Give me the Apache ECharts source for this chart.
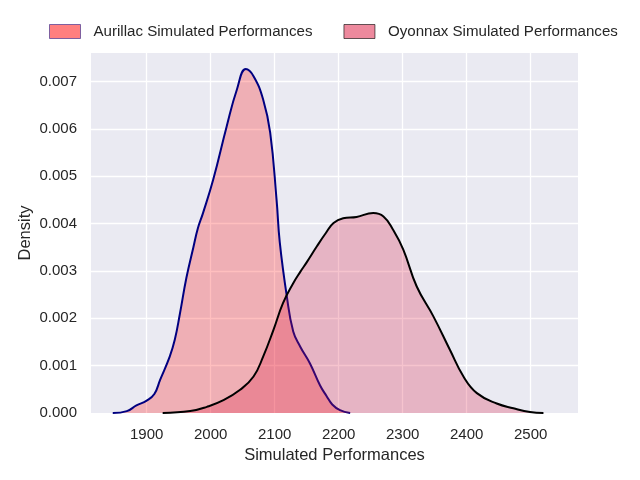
<!DOCTYPE html>
<html>
<head>
<meta charset="utf-8">
<script src="https://cdn.jsdelivr.net/npm/echarts@6/dist/echarts.min.js"></script>
<style>html,body{margin:0;padding:0;background:#fff}#c{width:640px;height:480px}</style>
</head>
<body>
<div id="c"></div>
<script>
var seriesNames = ["Aurillac Simulated Performances", "Oyonnax Simulated Performances"];
var aurillacX = [1847, 1869, 1884, 1900, 1912, 1921, 1936, 1944, 1952, 1962, 1973, 1980, 1988, 2004, 2025, 2041, 2055, 2067, 2082, 2093, 2103, 2108, 2119, 2129, 2140, 2155, 2171, 2181, 2190, 2202, 2218];
var aurillacY = [0, 0.00004, 0.00016, 0.00026, 0.0004, 0.0007, 0.00119, 0.00155, 0.0021, 0.00285, 0.0035, 0.0039, 0.00422, 0.00493, 0.00605, 0.00683, 0.00726, 0.00711, 0.00662, 0.00592, 0.0045, 0.0036, 0.00246, 0.00172, 0.0014, 0.00105, 0.00058, 0.00036, 0.00018, 0.00006, 0];
var oyonnaxX = [1925, 1968, 1994, 2020, 2046, 2067, 2082, 2098, 2113, 2129, 2140, 2150, 2166, 2180, 2192, 2207, 2228, 2254, 2270, 2285, 2301, 2322, 2348, 2374, 2395, 2416, 2447, 2473, 2499, 2520];
var oyonnaxY = [0, 0.00004, 0.00013, 0.00027, 0.00049, 0.00077, 0.00119, 0.00175, 0.00232, 0.00274, 0.00298, 0.00318, 0.00352, 0.0038, 0.00401, 0.00411, 0.00414, 0.00422, 0.00415, 0.00387, 0.00345, 0.00267, 0.00204, 0.00133, 0.00077, 0.00042, 0.0002, 0.0001, 0.00002, 0];
var yTicks = [0, 0.001, 0.002, 0.003, 0.004, 0.005, 0.006, 0.007];

function pairs(xs, ys) { return xs.map(function (x, i) { return [x, ys[i]]; }); }

var chart = echarts.init(document.getElementById('c'), null, {renderer: 'canvas'});
var font = 'Liberation Sans, Arial, sans-serif';
chart.setOption({
  animation: false,
  backgroundColor: '#ffffff',
  textStyle: {fontFamily: font},
  legend: {
    top: 19, left: 44, itemGap: 31, itemWidth: 31, itemHeight: 14, icon: 'rect',
    textStyle: {fontSize: 15.1, color: '#262626', fontFamily: font, padding: [0, 0, 0, 8]},
    data: [
      {name: seriesNames[0], itemStyle: {color: 'rgba(255,0,0,0.5)', borderColor: 'rgba(0,0,128,0.5)', borderWidth: 1, opacity: 1}},
      {name: seriesNames[1], itemStyle: {color: 'rgba(220,20,60,0.5)', borderColor: 'rgba(0,0,0,0.6)', borderWidth: 1, opacity: 1}}
    ]
  },
  grid: {left: 91, right: 62, top: 53, bottom: 67, show: true, backgroundColor: '#EAEAF2', borderWidth: 0},
  xAxis: {
    type: 'value', min: 1813, max: 2574, splitNumber: 8,
    name: 'Simulated Performances', nameLocation: 'middle', nameGap: 32,
    nameTextStyle: {fontSize: 16.5, color: '#262626', fontFamily: font},
    axisLine: {show: false}, axisTick: {show: false},
    axisLabel: {fontSize: 15, color: '#262626', margin: 14, showMinLabel: false, showMaxLabel: false, fontFamily: font,
      formatter: function (v) { return String(Math.round(v)); }},
    splitLine: {show: true, showMinLine: false, showMaxLine: false, lineStyle: {color: '#ffffff', width: 1.3}}
  },
  yAxis: {
    type: 'value', min: 0, max: 0.0076, interval: 0.001,
    name: 'Density', nameLocation: 'middle', nameGap: 57, nameMoveOverlap: false,
    nameTextStyle: {fontSize: 16.5, color: '#262626', fontFamily: font},
    axisLine: {show: false}, axisTick: {show: false},
    axisLabel: {fontSize: 15, color: '#262626', margin: 14, showMaxLabel: false, fontFamily: font,
      formatter: function (v) { return yTicks.indexOf(Math.round(v * 10000) / 10000) >= 0 ? v.toFixed(3) : ''; }},
    splitLine: {show: true, showMinLine: false, showMaxLine: false, lineStyle: {color: '#ffffff', width: 1.3}}
  },
  series: [
    {
      name: seriesNames[0], type: 'line', data: pairs(aurillacX, aurillacY), smooth: 0.45, showSymbol: false,
      lineStyle: {color: '#000080', width: 2}, itemStyle: {color: 'rgba(255,0,0,0.5)'},
      areaStyle: {color: 'rgba(255,0,0,0.25)', opacity: 1, origin: 'start'}, z: 2
    },
    {
      name: seriesNames[1], type: 'line', data: pairs(oyonnaxX, oyonnaxY), smooth: 0.45, showSymbol: false,
      lineStyle: {color: '#000000', width: 2}, itemStyle: {color: 'rgba(220,20,60,0.5)'},
      areaStyle: {color: 'rgba(220,20,60,0.25)', opacity: 1, origin: 'start'}, z: 3
    }
  ]
});
</script>
</body>
</html>
